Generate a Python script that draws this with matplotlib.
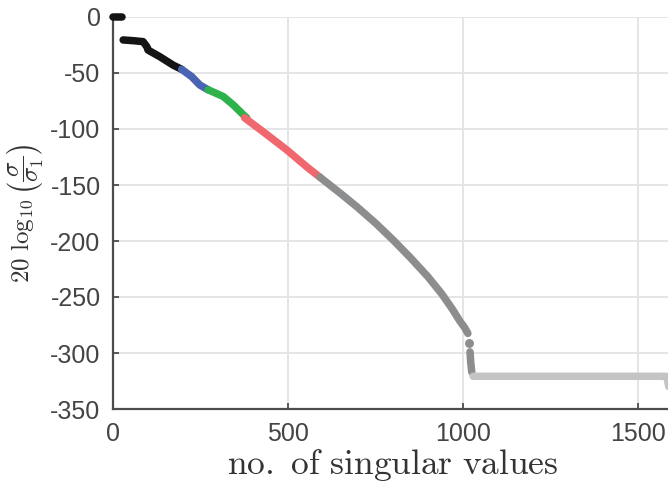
import numpy as np
import matplotlib
matplotlib.use("Agg")
import matplotlib.pyplot as plt

plt.rcParams["mathtext.fontset"] = "cm"
plt.rcParams["font.family"] = ["Liberation Sans", "DejaVu Sans"]

# Normalised singular value spectrum, 20*log10(sigma/sigma_1), split into bands
top_n = [1, 25]
top_v = [0.0, 0.0]

black_n = [29, 60, 86, 97, 100, 134, 172, 196]
black_v = [-20.5, -21.2, -22.0, -26.6, -29.5, -35.5, -43.0, -46.7]

blue_n = [196, 225, 248, 272]
blue_v = [-46.7, -53.3, -60.7, -65.0]

green_n = [272, 315, 344, 373, 382]
green_v = [-65.0, -71.0, -78.6, -87.5, -90.0]

red_n = [376, 430, 497, 554, 591]
red_v = [-90.0, -102.7, -118.8, -133.9, -143.0]

grey_n = [591, 650, 697, 750, 800, 850, 900, 940, 970, 991, 1005, 1014]
grey_v = [-143.0, -157.5, -169.5, -184.0, -199.0, -215.0, -232.0, -247.5,
          -261.0, -271.5, -277.5, -282.5]

tail_n = [1017, 1020, 1022, 1025]
tail_v = [-291.0, -299.0, -308.0, -317.0]

floor_n = [1029, 1200, 1400, 1582, 1588]
floor_v = [-320.8, -320.8, -320.8, -320.8, -330.0]

xticks = [0, 500, 1000, 1500]
yticks = [0, -50, -100, -150, -200, -250, -300, -350]

fig = plt.figure(figsize=(6.68, 4.86), dpi=100)
ax = fig.add_axes([113 / 668, 1 - 409 / 486, 560 / 668, 392 / 486])

lw = 5.4
kw = dict(lw=lw, solid_capstyle="round", solid_joinstyle="round", clip_on=False, zorder=3)
ax.plot(top_n, top_v, color="#141414", **kw)
ax.plot(black_n, black_v, color="#141414", **kw)
ax.plot(blue_n, blue_v, color="#4a63b2", **kw)
ax.plot(green_n, green_v, color="#2eb24a", **kw)
ax.plot(red_n, red_v, color="#f0676e", **kw)
ax.plot(grey_n, grey_v, color="#8c8d8f", **kw)
ax.plot([tail_n[0]], [tail_v[0]], marker="o", ms=lw, color="#8c8d8f", clip_on=False, zorder=3)
ax.plot(tail_n[1:], tail_v[1:], color="#8c8d8f", **kw)
ax.plot(floor_n, floor_v, color="#c4c4c4", **kw)

ax.set_xlim(0, 1600)
ax.set_ylim(-350, 0)
ax.set_xticks(xticks)
ax.set_yticks(yticks)
ax.set_xticklabels([str(t) for t in xticks])
ax.set_yticklabels([str(t) for t in yticks])

ax.grid(True, color="#e3e3e3", lw=1.3, zorder=0)
ax.set_axisbelow(True)
for s in ["top", "right"]:
    ax.spines[s].set_visible(False)
for s in ["left", "bottom"]:
    ax.spines[s].set_color("#4d4d4d")
    ax.spines[s].set_linewidth(1.6)
ax.tick_params(direction="in", length=4, width=1.3, color="#4d4d4d",
               labelsize=18, labelcolor="#444444")
ax.tick_params(axis="x", pad=9)
ax.tick_params(axis="y", pad=9)

ax.set_xlabel(r"$\mathrm{no.\ of\ singular\ values}$", fontsize=25.5, color="#333333", labelpad=1)
ax.set_ylabel(r"$20\ \log_{10}\left(\dfrac{\sigma}{\sigma_1}\right)$", fontsize=18,
              color="#333333", labelpad=4)

fig.savefig("out.png", dpi=100)
